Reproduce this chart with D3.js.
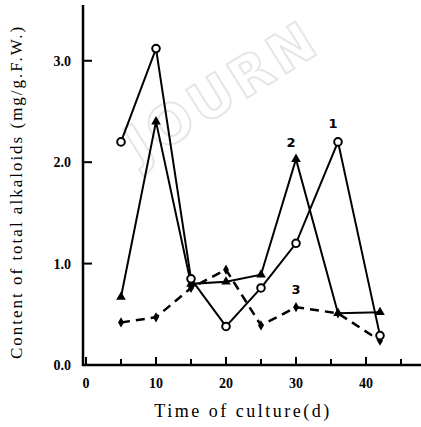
<!DOCTYPE html>
<html><head><meta charset="utf-8">
<script src="https://cdn.jsdelivr.net/npm/d3@7"></script>
<style>body{margin:0;background:#fff}svg{display:block}</style>
</head><body>
<script>
const days = [5, 10, 15, 20, 25, 30, 36, 42];
const series1 = [2.2, 3.12, 0.85, 0.38, 0.76, 1.2, 2.2, 0.29];   // circles
const series2 = [0.67, 2.4, 0.8, 0.82, 0.89, 2.03, 0.51, 0.52];  // triangles
const series3 = [0.42, 0.47, 0.76, 0.94, 0.39, 0.57, 0.51, 0.24]; // dashed
const xTicks = [0, 5, 10, 15, 20, 25, 30, 35, 40, 45];
const xTickLabels = [0, 10, 20, 30, 40];
const yTicks = [0, 1, 2, 3];

const W = 421, H = 427;
const svg = d3.select("body").append("svg").attr("width", W).attr("height", H);
const x = d3.scaleLinear().domain([0, 48]).range([86, 422]);
const y = d3.scaleLinear().domain([0, 3.55]).range([365, 5]);
const font = "'Liberation Serif','DejaVu Serif',serif";

// watermark
svg.append("text").attr("transform", "translate(140,165) rotate(-32)")
  .attr("font-family", "'DejaVu Sans',sans-serif").attr("font-size", 54).attr("font-weight", "bold")
  .attr("fill", "none").attr("stroke", "#e6e6e6").attr("stroke-width", 2).attr("letter-spacing", 4)
  .text("JOURN");

// axes
svg.append("line").attr("x1", 83).attr("x2", 83).attr("y1", 5).attr("y2", 366)
  .attr("stroke", "#000").attr("stroke-width", 2.5);
svg.append("line").attr("x1", 82).attr("x2", 421).attr("y1", 365).attr("y2", 365)
  .attr("stroke", "#000").attr("stroke-width", 2.5);
svg.selectAll(".xt").data(xTicks).join("line")
  .attr("x1", d => x(d)).attr("x2", d => x(d))
  .attr("y1", 365).attr("y2", d => d % 10 === 0 ? 357 : 359)
  .attr("stroke", "#000").attr("stroke-width", 2);
svg.selectAll(".yt").data(yTicks.filter(d => d > 0)).join("line")
  .attr("x1", 83).attr("x2", 92).attr("y1", d => y(d)).attr("y2", d => y(d))
  .attr("stroke", "#000").attr("stroke-width", 2);
svg.selectAll(".xl").data(xTickLabels).join("text")
  .attr("x", d => x(d)).attr("y", 388).attr("text-anchor", "middle")
  .attr("font-family", font).attr("font-size", 14).attr("font-weight", "bold").text(d => d);
svg.selectAll(".yl").data(yTicks).join("text")
  .attr("x", 71).attr("y", d => y(d) + 5).attr("text-anchor", "end")
  .attr("font-family", font).attr("font-size", 14).attr("font-weight", "bold").text(d => d.toFixed(1));

svg.append("text").attr("x", 243).attr("y", 417).attr("text-anchor", "middle")
  .attr("font-family", font).attr("font-size", 18).attr("letter-spacing", 2.5)
  .text("Time of culture(d)");
svg.append("text").attr("transform", "translate(22,192) rotate(-90)").attr("text-anchor", "middle")
  .attr("font-family", font).attr("font-size", 17).attr("letter-spacing", 2)
  .text("Content of total alkaloids (mg/g.F.W.)");

const line = d3.line().x((d, i) => x(days[i])).y(d => y(d));
svg.append("path").attr("d", line(series3)).attr("fill", "none").attr("stroke", "#000")
  .attr("stroke-width", 2.5).attr("stroke-dasharray", "9,6");
svg.append("path").attr("d", line(series2)).attr("fill", "none").attr("stroke", "#000").attr("stroke-width", 2);
svg.append("path").attr("d", line(series1)).attr("fill", "none").attr("stroke", "#000").attr("stroke-width", 2);

svg.selectAll(".m3").data(series3).join("path")
  .attr("transform", (d, i) => `translate(${x(days[i])},${y(d)})`)
  .attr("d", d3.symbol(d3.symbolDiamond, 30)).attr("fill", "#000");
svg.selectAll(".m2").data(series2).join("path")
  .attr("transform", (d, i) => `translate(${x(days[i])},${y(d)})`)
  .attr("d", d3.symbol(d3.symbolTriangle, 40)).attr("fill", "#000");
svg.selectAll(".m1").data(series1).join("circle")
  .attr("cx", (d, i) => x(days[i])).attr("cy", d => y(d)).attr("r", 3.8)
  .attr("fill", "#fff").attr("stroke", "#000").attr("stroke-width", 2);

const labels = [["1", 333, 128], ["2", 291, 147], ["3", 296, 294]];
svg.selectAll(".lab").data(labels).join("text")
  .attr("x", d => d[1]).attr("y", d => d[2]).attr("text-anchor", "middle")
  .attr("font-family", "'DejaVu Sans',sans-serif").attr("font-size", 13).attr("font-weight", "bold")
  .text(d => d[0]);
</script>
</body></html>
